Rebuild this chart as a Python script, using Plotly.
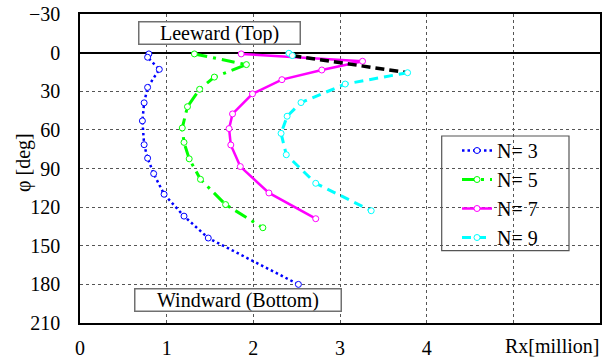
import plotly.graph_objects as go

# ---- data ----
x_n3 = [0.795, 0.78, 0.915, 0.78, 0.74, 0.72, 0.74, 0.78, 0.85, 0.97, 1.20, 1.48, 2.52]
phi_n3 = [1, 3.6, 13, 27, 39, 53, 71.5, 82, 94, 110, 127, 144, 180]

x_n5 = [1.32, 1.92, 1.55, 1.38, 1.24, 1.18, 1.20, 1.26, 1.39, 1.68, 2.11]
phi_n5 = [1, 9.3, 19, 28.5, 42, 58.5, 69.7, 82.5, 98.4, 118, 136]

x_n7 = [1.86, 3.26, 2.79, 2.33, 1.99, 1.76, 1.72, 1.74, 1.85, 2.18, 2.72]
phi_n7 = [1, 6.7, 13.5, 21, 32, 47.6, 59, 71.7, 88.5, 109, 129]

x_n9 = [2.41, 2.45, 3.78, 3.06, 2.55, 2.39, 2.32, 2.38, 2.72, 3.36]
phi_n9 = [0.5, 2.3, 15.6, 24.4, 38.8, 49.4, 62.7, 79.3, 101.5, 122.8]

x_ticks = [0, 1, 2, 3, 4, 5]
x_ticktext = ["0", "1", "2", "3", "4", ""]
y_ticks = [-30, 0, 30, 60, 90, 120, 150, 180, 210]

FONT = "Liberation Serif"
TXT = dict(family=FONT, size=20, color="black")

fig = go.Figure()

def marker(color):
    return dict(symbol="circle", size=6, color="white", line=dict(color=color, width=1))

fig.add_trace(go.Scatter(x=x_n3, y=phi_n3, mode="lines+markers", name="N= 3",
                         legendgroup="a",
                         line=dict(color="#0000FF", width=2.5, dash="2.5px,3px"),
                         marker=marker("#0000FF")))
fig.add_trace(go.Scatter(x=x_n5, y=phi_n5, mode="lines+markers", name="N= 5",
                         legendgroup="b",
                         line=dict(color="#00FF00", width=3, dash="13px,6px,3px,6px"),
                         marker=marker("#00FF00")))
fig.add_trace(go.Scatter(x=x_n7, y=phi_n7, mode="lines+markers", name="N= 7",
                         legendgroup="c",
                         line=dict(color="#FF00FF", width=2.5),
                         marker=marker("#FF00FF")))

# N=9: the segment between the 2nd and 3rd point is drawn in black dashes
x9_line = x_n9[:2] + [None] + x_n9[2:]
y9_line = phi_n9[:2] + [None] + phi_n9[2:]
fig.add_trace(go.Scatter(x=x_n9[1:3], y=phi_n9[1:3], mode="lines", showlegend=False,
                         line=dict(color="black", width=3.5, dash="9px,5px")))
fig.add_trace(go.Scatter(x=x9_line, y=y9_line, mode="lines+markers", name="N= 9",
                         legendgroup="d", connectgaps=False,
                         line=dict(color="#00FFFF", width=3, dash="9px,6px"),
                         marker=marker("#00FFFF")))

L, R, T, B = 80, 3, 14, 37
W, H = 603, 360
pw, ph = W - L - R, H - T - B

def px(xp):
    return (xp - L) / pw

def py(yp):
    return 1 - (yp - T) / ph

# legend box
fig.add_shape(type="rect", xref="paper", yref="paper",
              x0=px(441.7), x1=px(569), y0=py(250.7), y1=py(136),
              line=dict(color="#555555", width=1.2), fillcolor="white", layer="below")

fig.update_layout(
    width=W, height=H,
    margin=dict(l=L, r=R, t=T, b=B, autoexpand=False),
    paper_bgcolor="white", plot_bgcolor="white",
    font=TXT,
    showlegend=True,
    legend=dict(x=px(457), y=py(131), xanchor="left", yanchor="top",
                bgcolor="rgba(0,0,0,0)", borderwidth=0,
                traceorder="grouped", tracegroupgap=0,
                font=TXT, itemwidth=30),
    xaxis=dict(range=[0, 6], tickvals=x_ticks, ticktext=x_ticktext, automargin=False,
               tickfont=TXT,
               showgrid=True, gridcolor="#555555", griddash="dot", gridwidth=1,
               zeroline=False, showline=True, mirror=True, linecolor="black", linewidth=1.5,
               ticks="", ticklabelstandoff=6, fixedrange=True),
    yaxis=dict(range=[210, -30], tickvals=y_ticks, automargin=False,
               tickfont=TXT,
               showgrid=True, gridcolor="#555555", griddash="dot", gridwidth=1,
               zeroline=True, zerolinecolor="black", zerolinewidth=1.5,
               showline=True, mirror=True, linecolor="black", linewidth=1.5,
               ticks="", ticklabelstandoff=14, fixedrange=True),
    annotations=[
        dict(text="Leeward (Top)", xref="paper", yref="paper",
             x=px(219), y=py(33.3), xanchor="center", yanchor="middle",
             showarrow=False, bgcolor="white", bordercolor="#707070", borderwidth=1.5,
             borderpad=0, width=160, height=21, font=TXT),
        dict(text="Windward (Bottom)", xref="paper", yref="paper",
             x=px(237.7), y=py(300), xanchor="center", yanchor="middle",
             showarrow=False, bgcolor="white", bordercolor="#707070", borderwidth=1.5,
             borderpad=0, width=205, height=21, font=TXT),
        dict(text="Rx[million]", xref="paper", yref="paper",
             x=px(601), y=py(346), xanchor="right", yanchor="middle",
             showarrow=False, font=TXT),
        dict(text="φ [deg]", xref="paper", yref="paper",
             x=px(24), y=py(163), xanchor="center", yanchor="middle", textangle=-90,
             showarrow=False, font=TXT),
    ],
)

fig.write_html("out.html")
